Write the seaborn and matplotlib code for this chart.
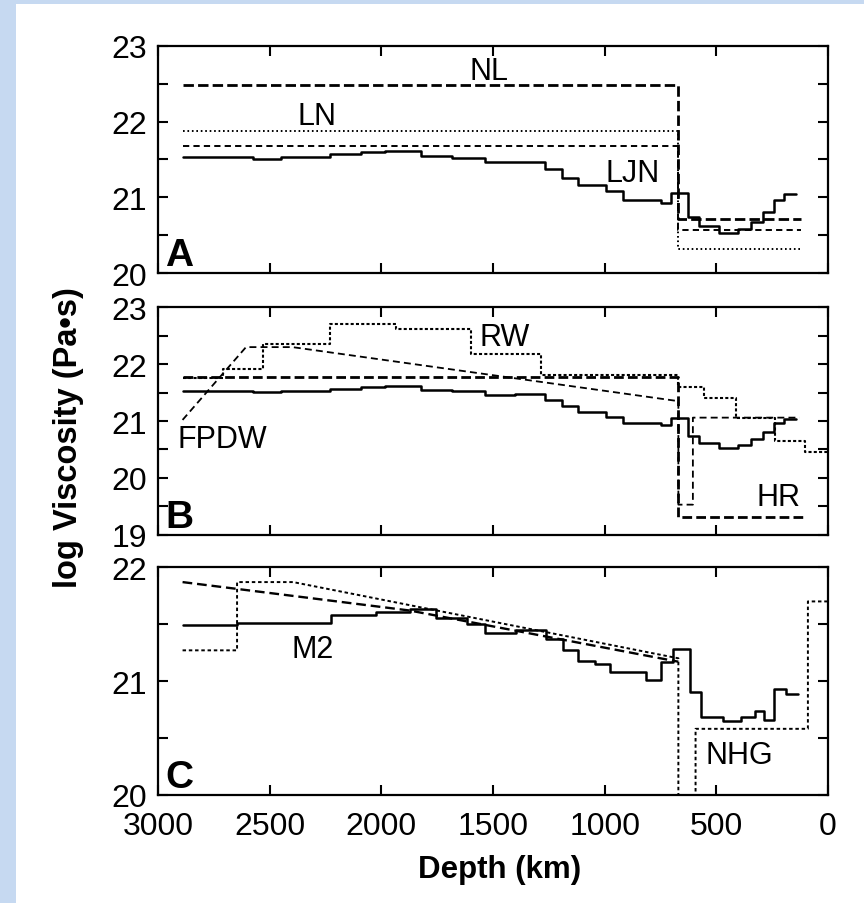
import numpy as np
import pandas as pd
import matplotlib
matplotlib.use("Agg")
import matplotlib.pyplot as plt
from matplotlib.patches import Rectangle
from matplotlib.ticker import MultipleLocator
import seaborn as sns

# ---------------- data (depth in km, log10 viscosity in Pa s) ----------------
# Panel A
LJN_DEPTH = [2890, 2574, 2451, 2229, 2093, 1982, 1822, 1685, 1538, 1403, 1267, 1192,
             1119, 993, 918, 747, 702, 627, 576, 486, 403, 343, 292, 240, 195, 143]
LJN_VISC = [21.53, 21.51, 21.53, 21.57, 21.60, 21.61, 21.55, 21.52, 21.46, 21.47, 21.37,
            21.26, 21.16, 21.08, 20.97, 20.93, 21.06, 20.74, 20.62, 20.53, 20.58, 20.68,
            20.81, 20.97, 21.04]
LAYER_DEPTH = [2890, 670, 120]
NL_VISC = [22.48, 20.72]
LN_VISC = [21.87, 20.32]
A3_VISC = [21.68, 20.57]

# Panel B
HR_DEPTH = [2890, 670, 112]
HR_VISC = [21.78, 19.32]
RW_DEPTH = [2890, 2708, 2528, 2232, 1933, 1597, 1284, 670, 553, 411, 239, 105, 0]
RW_VISC = [21.76, 21.91, 22.35, 22.71, 22.61, 22.18, 21.81, 21.59, 21.41, 21.06, 20.65, 20.45]
FPDW_DEPTH = [2890, 2606, 2398, 670, 670, 605, 605, 127]
FPDW_VISC = [21.02, 22.30, 22.30, 21.35, 19.53, 19.53, 21.06, 21.06]

# Panel C
M2_DEPTH = [2890, 2646, 2224, 2022, 1873, 1753, 1618, 1537, 1396, 1261, 1187, 1120,
            1045, 978, 814, 747, 694, 620, 568, 471, 388, 328, 285, 240, 187, 135]
M2_VISC = [21.49, 21.51, 21.58, 21.61, 21.63, 21.55, 21.50, 21.42, 21.45, 21.37, 21.27,
           21.18, 21.15, 21.08, 21.01, 21.17, 21.28, 20.90, 20.68, 20.65, 20.68, 20.74,
           20.66, 20.93, 20.89]
NHG_DEPTH = [2890, 2646, 2646, 2395, 670, 670, 593, 593, 90, 90, 0]
NHG_VISC = [21.27, 21.27, 21.87, 21.87, 21.20, 19.00, 19.00, 20.58, 20.58, 21.70, 21.70]
C2_DEPTH = [2890, 1873, 670]
C2_VISC = [21.87, 21.62, 21.17]

PANEL_LIMS = [(20, 23), (19, 23), (20, 22)]
PANEL_TAGS = ["A", "B", "C"]
XTICKS = [3000, 2500, 2000, 1500, 1000, 500, 0]

# ---------------- style ----------------
sns.set_theme(style="ticks")
plt.rcParams["font.family"] = ["Liberation Sans", "DejaVu Sans"]
plt.rcParams["lines.scale_dashes"] = False
plt.rcParams["axes.linewidth"] = 1.6
plt.rcParams["text.color"] = "black"

fig = plt.figure(figsize=(8.64, 9.04), dpi=100)
fig.patch.set_facecolor("white")
# light blue scan border
fig.patches.append(Rectangle((0, 0), 16 / 864, 1, transform=fig.transFigure,
                             facecolor="#c6d9f1", edgecolor="none", zorder=0))
fig.patches.append(Rectangle((0, 1 - 5 / 904), 1, 5 / 904, transform=fig.transFigure,
                             facecolor="#c6d9f1", edgecolor="none", zorder=0))

W, H = 864, 904
left = 158 / W
width = (828 - 158) / W
tops = [46.7, 308.3, 568.3]
hpx = 227.5
axes = [fig.add_axes([left, 1 - (t + hpx) / H, width, hpx / H]) for t in tops]


def step_line(ax, depth, visc, **kw):
    df = pd.DataFrame({"depth": depth, "visc": list(visc) + [visc[-1]]})
    sns.lineplot(data=df, x="depth", y="visc", ax=ax, sort=False, estimator=None,
                 drawstyle="steps-post", **kw)


def poly_line(ax, depth, visc, **kw):
    df = pd.DataFrame({"depth": depth, "visc": visc})
    sns.lineplot(data=df, x="depth", y="visc", ax=ax, sort=False, estimator=None, **kw)


K = "black"
# Panel A
ax = axes[0]
step_line(ax, LJN_DEPTH, LJN_VISC, color=K, lw=1.8)
step_line(ax, LAYER_DEPTH, NL_VISC, color=K, lw=2.0, linestyle=(0, (7.5, 3)))
step_line(ax, LAYER_DEPTH, A3_VISC, color=K, lw=1.4, linestyle=(0, (4.5, 3)))
step_line(ax, LAYER_DEPTH, LN_VISC, color=K, lw=1.4, linestyle=(0, (1.2, 2.0)))

# Panel B
ax = axes[1]
step_line(ax, LJN_DEPTH, LJN_VISC, color=K, lw=1.8)
step_line(ax, HR_DEPTH, HR_VISC, color=K, lw=2.0, linestyle=(0, (7, 3)))
poly_line(ax, FPDW_DEPTH, FPDW_VISC, color=K, lw=1.3, linestyle=(0, (5, 3)))
step_line(ax, RW_DEPTH, RW_VISC, color=K, lw=1.5, linestyle=(0, (2.2, 1.6)))

# Panel C
ax = axes[2]
step_line(ax, M2_DEPTH, M2_VISC, color=K, lw=1.8)
poly_line(ax, C2_DEPTH, C2_VISC, color=K, lw=1.7, linestyle=(0, (7, 3.5)))
poly_line(ax, NHG_DEPTH, NHG_VISC, color=K, lw=1.4, linestyle=(0, (2.5, 2.0)))

LABELS = [
    (0, "NL", 1519, 22.67), (0, "LN", 2289, 22.07), (0, "LJN", 875, 21.32),
    (1, "RW", 1448, 22.48), (1, "FPDW", 2710, 20.68), (1, "HR", 221, 19.66),
    (2, "M2", 2307, 21.28), (2, "NHG", 396, 20.35),
]
for i, txt, x, y in LABELS:
    axes[i].text(x, y, txt, fontsize=22, ha="center", va="center", color=K)

for i, ax in enumerate(axes):
    lo, hi = PANEL_LIMS[i]
    ax.set_xlim(3000, 0)
    ax.set_ylim(lo, hi)
    ax.set_xticks(XTICKS)
    ax.yaxis.set_major_locator(MultipleLocator(1))
    ax.yaxis.set_minor_locator(MultipleLocator(0.5))
    ax.tick_params(which="both", direction="in", top=True, right=True, length=7,
                   width=1.5, color=K, labelcolor=K)
    ax.tick_params(axis="y", which="major", labelsize=23, pad=8)
    ax.tick_params(axis="x", which="major", labelsize=23, pad=11.5)
    ax.set_xlabel("")
    ax.set_ylabel("")
    for s in ax.spines.values():
        s.set_color(K)
        s.set_linewidth(1.6)
    if i < 2:
        ax.tick_params(axis="x", labelbottom=False)
    ax.text(0.011, 0.035, PANEL_TAGS[i], transform=ax.transAxes, fontsize=28,
            fontweight="bold", ha="left", va="baseline", color=K)

fig.text(69 / W, 1 - 438 / H, "log Viscosity (Pa\u2022s)", rotation=90, fontsize=23.5,
         fontweight="bold", ha="center", va="center", color=K)
fig.text(500 / W, 1 - 870 / H, "Depth (km)", fontsize=22.5, fontweight="bold",
         ha="center", va="center", color=K)

fig.savefig("out.png", dpi=100, facecolor=fig.get_facecolor())
